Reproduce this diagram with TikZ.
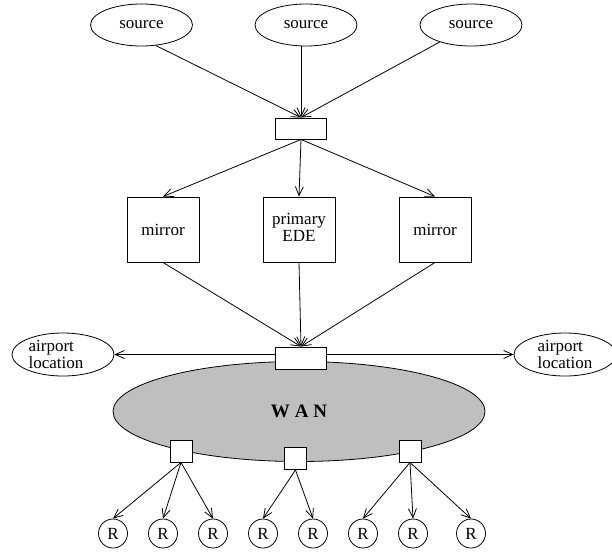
\documentclass[tikz,border=0pt]{standalone}
\usepackage{fontspec}
\setmainfont{Liberation Serif}
\usetikzlibrary{arrows.meta}
\usetikzlibrary{shapes}

\tikzset{
  box/.style={draw,line width=0.9pt,fill=white,inner sep=0pt},
  oval/.style={draw,ellipse,line width=0.8pt,inner sep=0pt,minimum width=102pt,minimum height=42pt},
  rnode/.style={draw,circle,line width=0.8pt,inner sep=0pt,minimum size=29pt},
}

\begin{document}
\begin{tikzpicture}[x=1pt,y=-1pt,line width=0.8pt,>={Straight Barb[length=9pt,width=8pt]},font=\fontsize{17pt}{17pt}\selectfont]
\useasboundingbox (0,0) rectangle (612,552);
% sources and hub
\node[oval] (S1) at (141.5,25) {source};
\node[oval] (S2) at (306,25) {source};
\node[oval] (S3) at (471,25) {source};
\node[box,minimum width=51pt,minimum height=21pt] (H) at (301,128.5) {};
\draw[->] (S1.-55) -- (H.north);
\draw[->] (S2.south -| H.north) -- (H.north);
\draw[->] (S3) -- (H.north);
% mirrors
\node[box,minimum width=72pt,minimum height=65pt] (M1) at (163,229.5) {mirror};
\node[box,minimum width=72pt,minimum height=65pt,align=center] (M2) at (299,229.5) {primary\\EDE\vphantom{\strut}};
\node[box,minimum width=72pt,minimum height=65pt] (M3) at (435,229.5) {mirror};
\draw[->] (H.south) -- (M1.north);
\draw[->] (H.south) -- (M2.north);
\draw[->] (H.south) -- (M3.north);
% wan
\node[draw,ellipse,line width=0.8pt,fill=black!25,inner sep=0pt,minimum width=372pt,minimum height=100pt,font=\fontsize{19pt}{19pt}\selectfont\bfseries] (W) at (299,411.5) {W\hspace{5pt}A\hspace{5pt}N};
\node[box,minimum width=51pt,minimum height=22pt] (G) at (301,358) {};
\draw[->] (M1.south) -- (G.north);
\draw[->] (M2.south) -- (G.north);
\draw[->] (M3.south) -- (G.north);
\node[oval,minimum height=43pt,align=left,font=\fontsize{17pt}{13.5pt}\selectfont] (A1) at (63,354.5) {airport\\location\hspace*{14pt}};
\node[oval,minimum height=43pt,align=left,font=\fontsize{17pt}{13.5pt}\selectfont] (A2) at (565,354.5) {airport\\location};
\draw[->] (G.west |- A1) -- (A1);
\draw[->] (G.east |- A2) -- (A2);
% routers
\node[box,minimum size=22pt] (B1) at (181,451) {};
\node[box,minimum size=22pt] (B2) at (295.5,458.5) {};
\node[box,minimum size=22pt] (B3) at (410,451) {};
\node[rnode] (R1) at (113,533.5) {R};
\node[rnode] (R2) at (163,533.5) {R};
\node[rnode] (R3) at (213,533.5) {R};
\node[rnode] (R4) at (263,533.5) {R};
\node[rnode] (R5) at (313,533.5) {R};
\node[rnode] (R6) at (363,533.5) {R};
\node[rnode] (R7) at (413,533.5) {R};
\node[rnode] (R8) at (471,533.5) {R};
\draw[->] (B1.south) -- (R1.north);
\draw[->] (B1.south) -- (R2.north);
\draw[->] (B1.south) -- (R3.north);
\draw[->] (B2.south) -- (R4.north);
\draw[->] (B2.south) -- (R5.north);
\draw[->] (B3.south) -- (R6.north);
\draw[->] (B3.south) -- (R7.north);
\draw[->] (B3.south) -- (R8.north);
\end{tikzpicture}
\end{document}
